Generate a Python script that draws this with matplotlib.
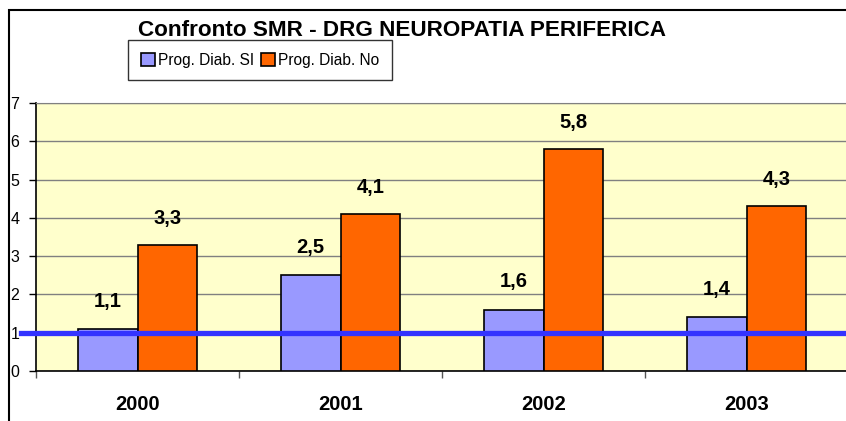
import matplotlib.pyplot as plt
import numpy as np
from matplotlib.patches import Rectangle

years = ["2000", "2001", "2002", "2003"]
diab_si = [1.1, 2.5, 1.6, 1.4]
diab_no = [3.3, 4.1, 5.8, 4.3]
si_labels = ["1,1", "2,5", "1,6", "1,4"]
no_labels = ["3,3", "4,1", "5,8", "4,3"]
ref_level = 1.0

plt.rcParams["font.family"] = ["Liberation Sans", "DejaVu Sans"]

W, H = 846, 421
fig = plt.figure(figsize=(W / 100, H / 100), dpi=100)
fig.patch.set_facecolor("white")

# plot area in pixel terms
left, right, top, bottom = 36, 848, 103, 371
ax = fig.add_axes([left / W, 1 - bottom / H, (right - left) / W, (bottom - top) / H])
ax.set_facecolor("#FFFFCC")

x = np.arange(len(years))
bw = 0.295
bars_si = ax.bar(x - bw / 2, diab_si, bw, color="#9999FF", edgecolor="black", linewidth=1.2, zorder=3)
bars_no = ax.bar(x + bw / 2, diab_no, bw, color="#FF6600", edgecolor="black", linewidth=1.2, zorder=3)

for xs, v, lab in zip(x - bw / 2, diab_si, si_labels):
    ax.annotate(lab, (xs, v), xytext=(0, 20), textcoords="offset points",
                ha="center", va="center", fontsize=14.5, fontweight="bold", zorder=5)
for xs, v, lab in zip(x + bw / 2, diab_no, no_labels):
    ax.annotate(lab, (xs, v), xytext=(0, 19), textcoords="offset points",
                ha="center", va="center", fontsize=14.5, fontweight="bold", zorder=5)

ax.axhline(ref_level, xmin=-15 / (right - left), xmax=1, color="#3333FF", linewidth=3.8,
           clip_on=False, zorder=6)

ax.set_xlim(-0.5, 3.5)
ax.set_ylim(0, 7)
ax.set_yticks(range(0, 8))
ax.yaxis.grid(True, color="#808080", linewidth=1, zorder=0)
ax.set_axisbelow(True)

ax.set_xticks(x)
ax.set_xticklabels(years, fontsize=14.5, fontweight="bold")
ax.set_xticks(np.arange(-0.5, 4, 1), minor=True)
ax.tick_params(axis="x", which="major", length=0, pad=17)
ax.tick_params(axis="x", which="minor", length=5, width=1, color="#555555", direction="out")
ax.tick_params(axis="y", length=5, width=1, pad=7, labelsize=11.5)

ax.spines["right"].set_visible(False)
ax.spines["top"].set_color("#808080")
ax.spines["left"].set_linewidth(1.2)
ax.spines["bottom"].set_linewidth(1.2)

# outer chart frame
fig.patches.append(Rectangle((9 / W, -0.1), 1.2, 1.1 - 10 / H, transform=fig.transFigure,
                             fill=False, edgecolor="black", linewidth=1.5, clip_on=False))

fig.text(402 / W, 1 - 30 / H, "Confronto SMR - DRG NEUROPATIA PERIFERICA", ha="center", va="center",
         fontsize=16.2, fontweight="bold")

leg = fig.legend([bars_si, bars_no], ["Prog. Diab. SI", "Prog. Diab. No"], loc="center",
                 bbox_to_anchor=(260 / W, 1 - 60 / H), ncol=2, frameon=True, fancybox=False,
                 edgecolor="black", handlelength=0.9, handleheight=0.9, handletextpad=0.2,
                 columnspacing=0.45, borderpad=0.8, borderaxespad=0,
                 prop={"size": 11.2})
leg.get_frame().set_linewidth(1)

fig.savefig("out.png", dpi=100)
